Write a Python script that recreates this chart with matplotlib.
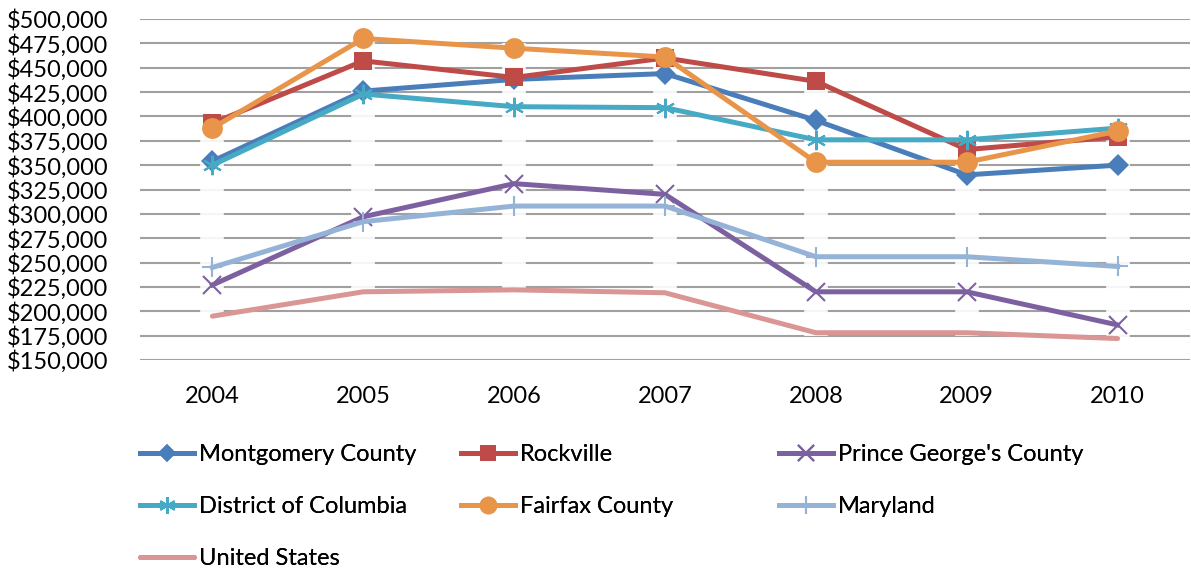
import matplotlib
matplotlib.use('Agg')
import matplotlib.pyplot as plt
import numpy as np

# data (thousands of dollars)
years = ['2004', '2005', '2006', '2007', '2008', '2009', '2010']
montgomery = [354, 426, 438, 444, 396, 340, 350]
rockville = [393, 457, 440, 460, 436, 366, 379]
prince_georges = [227, 297, 331, 320, 220, 220, 186]
dc = [350, 423, 410, 409, 376, 376, 388]
fairfax = [388, 480, 470, 461, 353, 353, 385]
maryland = [245, 292, 308, 308, 256, 256, 246]
united_states = [195, 220, 222, 219, 178, 178, 172]

names = ['Montgomery County', 'Rockville', "Prince George's County",
         'District of Columbia', 'Fairfax County', 'Maryland', 'United States']
values = [montgomery, rockville, prince_georges, dc, fairfax, maryland, united_states]
colors = ['#4A7EBB', '#BE4B48', '#7D60A0', '#46AAC5', '#E8954A', '#95B3D7', '#D99694']
markers = ['D', 's', 'x', '*', 'o', '+', None]
msizes = [11, 13, 13, 14, 15, 15, 0]

plt.rcParams['font.family'] = ['Lato', 'DejaVu Sans']
fs = 17

fig = plt.figure(figsize=(11.91, 5.73), dpi=100)
ax = fig.add_axes([140/1191, 1 - 360/573, 1050/1191, 341/573])

x = np.arange(len(years))
allv = np.array(values) * 1000

# faint white bands behind the markers at each category
ax.vlines(x, allv.min(axis=0) - 3000, allv.max(axis=0) + 5000, color='white',
          linewidth=17, alpha=0.9, zorder=1)

handles = []
for name, v, c, m, ms in zip(names, values, colors, markers, msizes):
    y = np.array(v) * 1000
    if m is None:
        ln, = ax.plot(x, y, color=c, linewidth=3.6, zorder=2, label=name,
                      solid_capstyle='round')
    elif m in ('x', '+', '*'):
        ln, = ax.plot(x, y, color=c, linewidth=3.6, marker=m,
                      markersize=ms, markeredgewidth=1.5, zorder=2, label=name)
        if m == '*':
            ln.set_marker((6, 2, 0))
    else:
        ln, = ax.plot(x, y, color=c, linewidth=3.6, marker=m, markersize=ms,
                      markeredgewidth=0, zorder=2, label=name)
    handles.append(ln)

ax.set_ylim(150000, 500000)
ax.set_xlim(-0.48, 6.48)
ax.set_yticks(np.arange(150000, 500001, 25000))
ax.set_yticklabels(['${:,}'.format(t) for t in range(150000, 500001, 25000)])
ax.set_xticks(x)
ax.set_xticklabels(years)
ax.tick_params(axis='both', length=0, labelsize=fs, colors='black')
ax.tick_params(axis='y', pad=23)
ax.tick_params(axis='x', pad=19)
ax.grid(axis='y', color='#A0A0A0', linewidth=1.5)
ax.set_axisbelow(True)
for s in ax.spines.values():
    s.set_visible(False)

# legend, three columns placed like the original
cols = [([0, 3, 6], 140), ([1, 4], 461), ([2, 5], 779)]
for idx, xpos in cols:
    leg = fig.legend([handles[i] for i in idx], [names[i] for i in idx],
                     loc='upper left', bbox_to_anchor=(xpos/1191, 1 - 444/573),
                     frameon=False, fontsize=fs, handlelength=2.3,
                     handletextpad=0.2, labelspacing=1.32, borderaxespad=0,
                     borderpad=0, markerscale=0.85)
    fig.add_artist(leg)

fig.savefig('out.png', dpi=100)
